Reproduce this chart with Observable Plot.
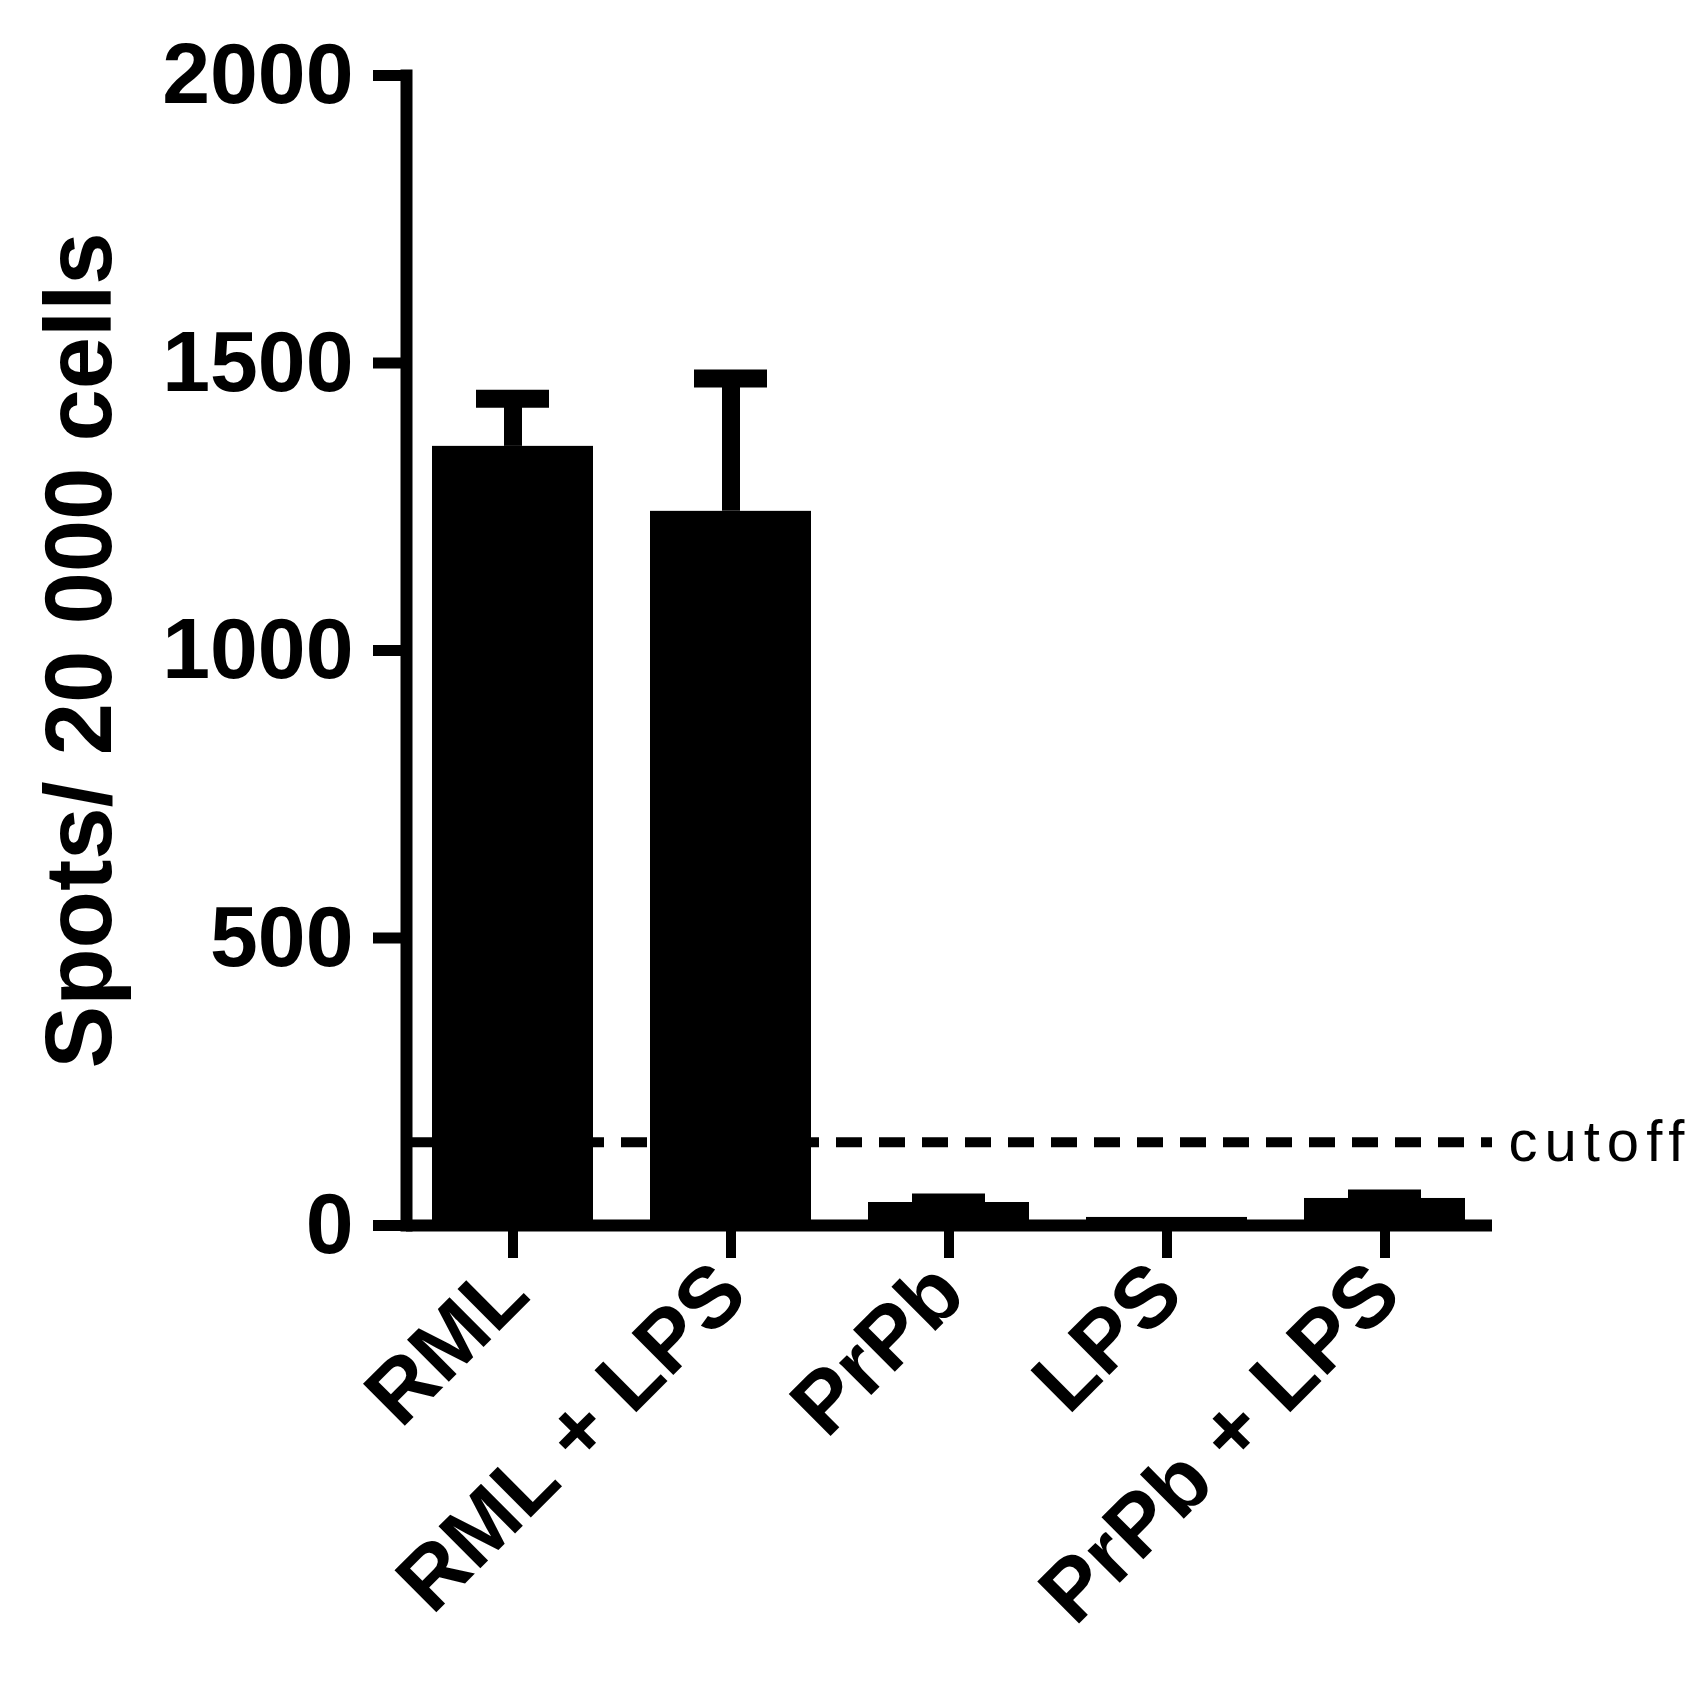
<!DOCTYPE html>
<html><head><meta charset="utf-8">
<script src="https://cdn.jsdelivr.net/npm/d3@7"></script>
<script src="https://cdn.jsdelivr.net/npm/@observablehq/plot@0.6"></script>
<style>body{margin:0;background:#fff}</style>
</head><body><div id="chart"></div>
<script>
const categories = ["RML", "RML + LPS", "PrPb", "LPS", "PrPb + LPS"];
const means = [1355, 1242, 40, 14, 47];
const errors = [83, 231, 0, null, 0];
const yTicks = [0, 500, 1000, 1500, 2000];
const cutoff = 145;
const yLabel = "Spots/ 20 000 cells";
const cutoffLabel = "cutoff";

const data = categories.map((c, i) => ({category: c, mean: means[i], err: errors[i]}));
const withErr = data.filter(d => d.err != null);
const font = "'Liberation Sans', Arial, Helvetica, sans-serif";

const chart = Plot.plot({
  width: 1698, height: 1685,
  marginLeft: 406, marginRight: 206, marginTop: 75, marginBottom: 460,
  style: {fontFamily: font, fontSize: "86px", fontWeight: "bold", background: "#fff", color: "#000", overflow: "visible"},
  x: {type: "band", domain: categories, paddingInner: 0.26, paddingOuter: 0.115, label: null},
  y: {domain: [0, 2000], label: null},
  marks: [
    Plot.barY(data, {x: "category", y: "mean", fill: "#000"}),
    Plot.ruleX(withErr.filter(d => d.err > 0), {x: "category", y1: "mean", y2: d => d.mean + d.err, stroke: "#000", strokeWidth: 18}),
    Plot.tickY(withErr, {x: "category", y: d => d.mean + d.err, stroke: "#000", strokeWidth: 18, insetLeft: 44, insetRight: 44}),
    Plot.ruleY([cutoff], {stroke: "#000", strokeWidth: 10, strokeDasharray: "26,17"}),
    Plot.text([cutoff], {y: d => d, frameAnchor: "right", dx: 16, textAnchor: "start", text: () => cutoffLabel, fontSize: 58, fontWeight: "normal", fill: "#000"}),
    Plot.frame({anchor: "left", stroke: "#000", strokeWidth: 12, strokeLinecap: "square"}),
    Plot.ruleY([0], {stroke: "#000", strokeWidth: 12}),
    Plot.axisY({ticks: yTicks, tickSize: 33, strokeWidth: 11, tickPadding: 20, tickFormat: d => String(d), fontSize: 86, fontWeight: "bold", label: null}),
    Plot.axisX({tickSize: 33, strokeWidth: 10, tickRotate: -45, tickPadding: 20, fontSize: 86, fontWeight: "bold", label: null}),
    Plot.text([yLabel], {frameAnchor: "left", dx: -326, rotate: -90, textAnchor: "middle", text: d => d, fontSize: 94, fontWeight: "bold", fill: "#000"})
  ]
});
document.getElementById("chart").appendChild(chart);
chart.querySelectorAll("text").forEach(t => { if (t.textContent === cutoffLabel) t.setAttribute("letter-spacing", "7"); });
</script></body></html>
